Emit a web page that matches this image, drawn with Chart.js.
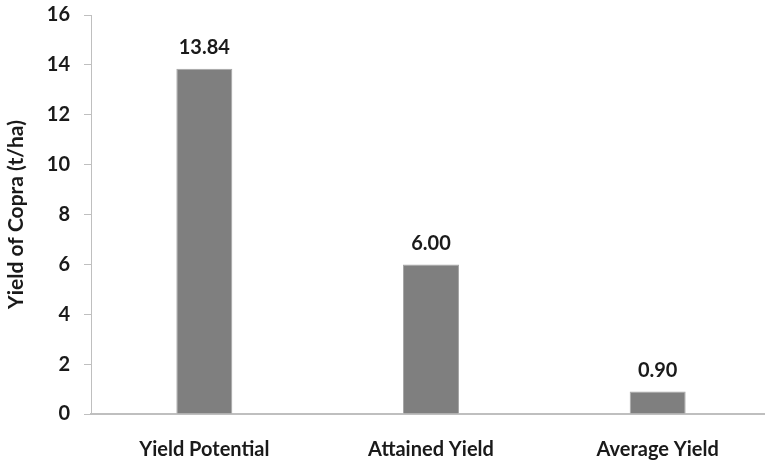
<!DOCTYPE html>
<html>
<head>
<meta charset="utf-8">
<script src="https://cdn.jsdelivr.net/npm/chart.js@4/dist/chart.umd.min.js"></script>
<style>
  html, body { margin: 0; padding: 0; background: #fff; overflow: hidden; }
  #wrap { width: 771px; height: 464px; }
</style>
</head>
<body>
<div id="wrap"><canvas id="c" width="771" height="464"></canvas></div>
<script>
// Copra yield comparison (t/ha)
const categories = ['Yield Potential', 'Attained Yield', 'Average Yield'];
const yieldValues = [13.84, 6.00, 0.90];
const yTicks = [0, 2, 4, 6, 8, 10, 12, 14, 16];

const FONT = 'Lato, "Open Sans", sans-serif';
const TEXT = '#1a1a1a';
const AXIS = '#bfbfbf';

// Writes each bar's value above it with two decimals
const valueLabels = {
  id: 'valueLabels',
  afterDatasetsDraw(chart) {
    const ctx = chart.ctx;
    const meta = chart.getDatasetMeta(0);
    ctx.save();
    ctx.font = 'bold 20px ' + FONT;
    ctx.fillStyle = TEXT;
    ctx.textAlign = 'center';
    ctx.textBaseline = 'bottom';
    meta.data.forEach((bar, i) => {
      ctx.fillText(yieldValues[i].toFixed(2), bar.x, bar.y - 11);
    });
    ctx.restore();
  }
};

new Chart(document.getElementById('c'), {
  type: 'bar',
  data: {
    labels: categories,
    datasets: [{
      data: yieldValues,
      backgroundColor: '#7f7f7f',
      borderColor: '#a6a6a6',
      borderWidth: 1,
      categoryPercentage: 1,
      barPercentage: 0.247
    }]
  },
  options: {
    responsive: false,
    animation: false,
    layout: { padding: { top: 15, right: 0, bottom: 0, left: 0 } },
    plugins: { legend: { display: false }, tooltip: { enabled: false } },
    scales: {
      x: {
        grid: { display: false, drawTicks: false },
        border: { display: true, color: AXIS, width: 2 },
        ticks: { color: TEXT, font: { family: FONT, size: 20, weight: 'bold' }, padding: 24 },
        afterFit(scale) { scale.height = 50; }
      },
      y: {
        min: 0,
        max: 16,
        afterBuildTicks(scale) { scale.ticks = yTicks.map(v => ({ value: v })); },
        grid: { drawOnChartArea: false, drawTicks: true, tickLength: 7, color: AXIS, lineWidth: 1 },
        border: { display: true, color: AXIS, width: 1 },
        ticks: { color: TEXT, font: { family: FONT, size: 20, weight: 'bold' }, padding: 14 },
        title: {
          display: true,
          text: 'Yield of Copra (t/ha)',
          color: TEXT,
          font: { family: FONT, size: 21, weight: 'bold' },
          padding: { top: 4, bottom: 0 }
        },
        afterFit(scale) {
          scale.width = 91;
          scale.paddingTop = 0;
          scale.paddingBottom = 0;
        }
      }
    }
  },
  plugins: [valueLabels]
});
</script>
</body>
</html>
